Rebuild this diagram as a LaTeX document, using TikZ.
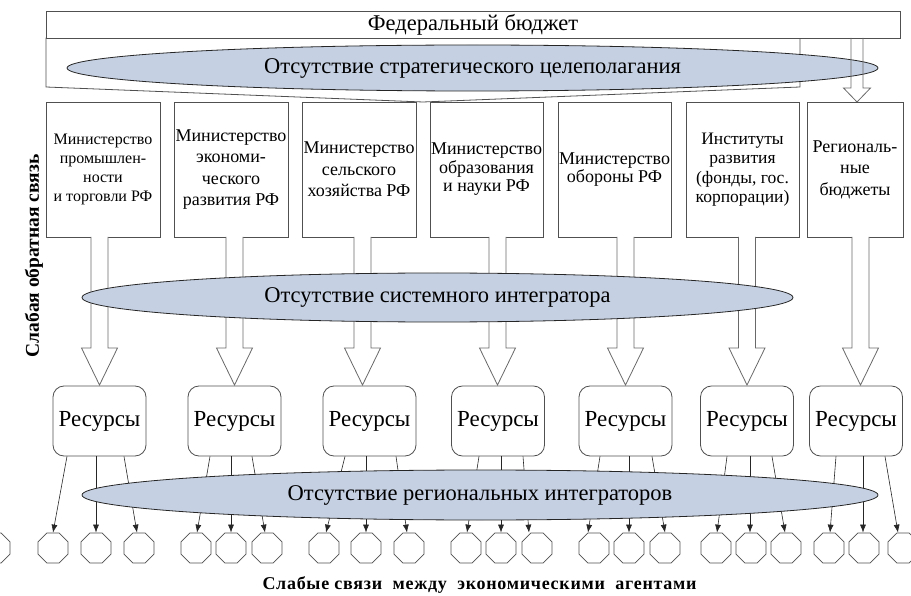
\documentclass[tikz,border=0pt]{standalone}
\usepackage{fontspec}
\setmainfont{Liberation Serif}
\usetikzlibrary{arrows.meta,shapes.geometric,calc}
\definecolor{ellfill}{RGB}{197,208,226}
\definecolor{boxgray}{RGB}{80,80,80}
\definecolor{arrgray}{RGB}{105,105,105}
\newcommand\fatarrow[6]{% start, tip, halfshaft, halfhead, headlen, fill
  \draw[fatarr,#6] let \p1=(#1), \p2=(#2) in
   (\x2-#3pt,\y1) -- (\x2-#3pt,\y2+#5pt) -- (\x2-#4pt,\y2+#5pt) -- (\x2,\y2)
   -- (\x2+#4pt,\y2+#5pt) -- (\x2+#3pt,\y2+#5pt) -- (\x2+#3pt,\y1);}
\begin{document}
\begin{tikzpicture}[x=1pt,y=-1pt,
  boxline/.style={draw=boxgray,line width=0.8pt},
  minbox/.style={boxline,fill=white,minimum height=135pt,inner sep=1pt,align=center,
     font=\fontsize{18}{21.5}\selectfont},
  ell/.style={ellipse,draw=black!85,line width=0.8pt,fill=ellfill,inner sep=0pt,
     font=\fontsize{22.5}{24}\selectfont},
  resbox/.style={boxline,fill=white,rounded corners=11pt,minimum width=93pt,
     minimum height=70pt,inner sep=1pt,font=\fontsize{23}{24}\selectfont},
  agent/.style={regular polygon,regular polygon sides=8,draw=boxgray,line width=0.7pt,
     fill=white,minimum size=32.5pt,inner sep=0pt},
  fatarr/.style={draw=arrgray,line width=0.8pt,fill=white},
  link/.style={draw=black!85,line width=0.6pt,-{Latex[length=8pt,width=6pt]}}]
\useasboundingbox (0,0) rectangle (911,596);

% Federal budget and funnel
\draw[boxline,fill=white] (46,38) -- (800,38) -- (800,87) -- (423,102) -- (46,87) -- cycle;
\node[boxline,fill=white,minimum width=854pt,minimum height=27pt,inner sep=0pt,
  font=\fontsize{22.5}{24}\selectfont] (fb) at (473,24.5) {Федеральный бюджет};

\node[ell,minimum width=811pt,minimum height=46pt] (e1) at (472.5,68)
  {Отсутствие стратегического целеполагания};

% arrow federal -> regional budgets
\coordinate (fbs) at (857,38);
\coordinate (rbt) at (857,102);
\fatarrow{fbs}{rbt}{6}{13.5}{14}{fill=none}

% ministries
\node[minbox,minimum width=114pt,font=\fontsize{16}{19}\selectfont] (m1) at (103,169.5)
  {Министерство\\промышлен-\\ности\\и торговли РФ};
\node[minbox,minimum width=114pt] (m2) at (231,169.5)
  {Министерство\\экономи-\\ческого\\развития РФ};
\node[minbox,minimum width=114pt] (m3) at (359,169.5)
  {Министерство\\сельского\\хозяйства РФ};
\node[minbox,minimum width=113pt,font=\fontsize{18}{18.5}\selectfont] (m4) at (486.5,169.5)
  {Министерство\\образования\\и науки РФ};
\node[minbox,minimum width=113pt,font=\fontsize{18}{18.5}\selectfont] (m5) at (614.5,169.5)
  {Министерство\\обороны РФ};
\node[minbox,minimum width=113pt,font=\fontsize{17.5}{19.5}\selectfont] (m6) at (742.5,169.5)
  {Институты\\развития\\(фонды, гос.\\корпорации)};
\node[minbox,minimum width=96pt] (m7) at (855,169.5)
  {Региональ-\\ные\\бюджеты};

% resources
\foreach \i/\x in {1/99.5,2/234.5,3/369.5,4/498,5/625.5,6/747,7/856}
  \node[resbox] (r\i) at (\x,421) {Ресурсы};

% fat arrows ministries -> resources
\foreach \i/\x in {1/99.5,2/234.5,3/362.5,4/497.5,5/625.5,6/747,7/860.5}{
  \coordinate (s\i) at (\x,237);
  \coordinate (t\i) at (\x,385);
  \fatarrow{s\i}{t\i}{8.5}{18}{37}{}
}

\node[ell,minimum width=711pt,minimum height=49pt] (e2) at (437.5,297.5)
  {Отсутствие системного интегратора};

% agents
\foreach \i/\x in {0/-5,1/53,2/96,3/139,4/196,5/231,6/267,7/324,8/366,9/409,
   10/466,11/501,12/537,13/594,14/629,15/665,16/716,17/751,18/786,19/829,20/864,21/903}
  \node[agent] (o\i) at (\x,548) {};

% links resources -> agents
\foreach \r/\dx/\o/\ex in {1/-32.5/1/0,1/-3.5/2/0,1/24.5/3/-2,
   2/-24.5/4/1,2/-3.5/5/0,2/17.5/6/-2,
   3/-24.5/7/2,3/-3.5/8/0,3/26.5/9/-2,
   4/-19/10/1,4/3/11/0,4/25/12/-8,
   5/-25.5/13/-6,5/3.5/14/0,5/26.5/15/0,
   6/-20/16/1,6/3/17/-1,6/25/18/-1,
   7/-20/19/1,7/7/20/-1,7/29/21/-5}
  \draw[link] ($(r\r.south)+(\dx,0)$) -- ($(o\o.north)+(\ex,0)$);

\node[ell,minimum width=796pt,minimum height=50pt] (e3) at (480,495)
  {Отсутствие региональных интеграторов};

% side labels
\node[rotate=90,font=\bfseries\fontsize{19.5}{20}\selectfont] (lt) at (34,256)
  {Слабая обратная связь};
\node[font=\bfseries\fontsize{18}{18}\selectfont\addfontfeature{LetterSpace=4}] (bt) at (479.5,585)
  {Слабые связи\ \ между\ \ экономическими\ \ агентами};
\end{tikzpicture}
\end{document}
